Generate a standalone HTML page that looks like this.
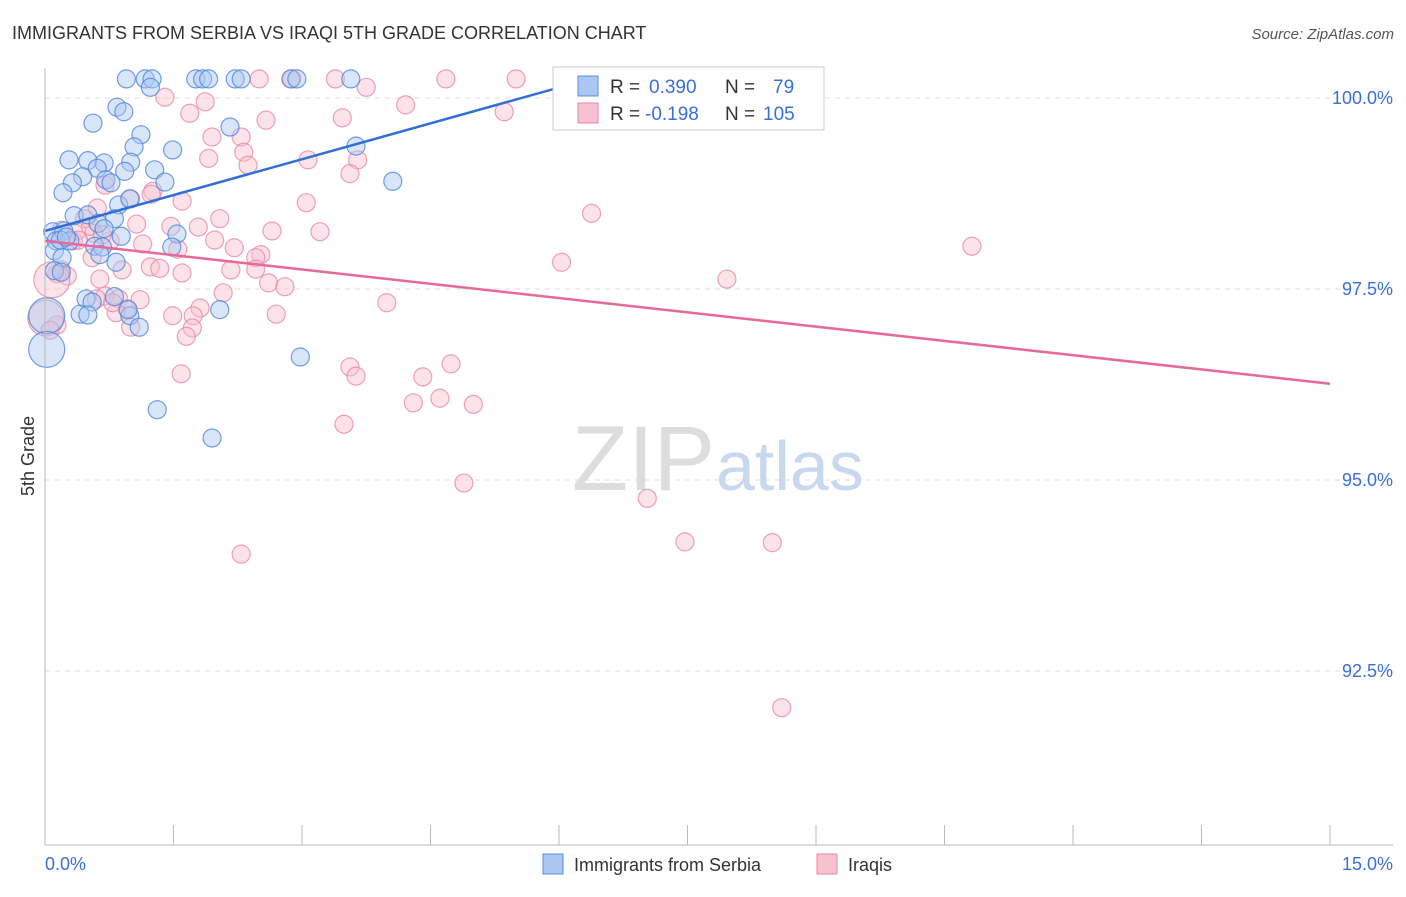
<!DOCTYPE html>
<html><head><meta charset="utf-8"><style>
body{margin:0;background:#fff;font-family:"Liberation Sans",sans-serif;}
svg text{font-family:"Liberation Sans",sans-serif;}
</style></head><body>
<svg id="chart" width="1406" height="892" xmlns="http://www.w3.org/2000/svg">
<text x="12" y="39" font-size="18" fill="#333">IMMIGRANTS FROM SERBIA VS IRAQI 5TH GRADE CORRELATION CHART</text>
<text x="1394" y="39" font-size="15" fill="#555" font-style="italic" text-anchor="end">Source: ZipAtlas.com</text>
<g id="grid"></g>
<text x="715" y="490" font-size="92" fill="#ddd" text-anchor="end" font-family="Liberation Serif">ZIP</text>
<text x="716" y="490" font-size="70" fill="#c8d8ee">atlas</text>
<g id="pts"></g>
<g id="axes"></g>
<text transform="translate(34,456) rotate(-90)" font-size="18" fill="#333" text-anchor="middle">5th Grade</text>
<text x="45" y="870" font-size="18" fill="#3a6fd8">0.0%</text>
<text x="1393" y="870" font-size="18" fill="#3a6fd8" text-anchor="end">15.0%</text>
<g>
<rect x="553" y="67" width="271" height="63" fill="#fff" stroke="#ccc"/>
<rect x="578" y="76" width="20" height="20" fill="#aac8f2" stroke="#5a8ee0"/>
<rect x="578" y="103" width="20" height="20" fill="#f8c0d0" stroke="#e888a8"/>
<text x="610" y="93" font-size="19" fill="#333">R = <tspan fill="#3a6fd8" x="649">0.390</tspan><tspan x="725">N = </tspan><tspan fill="#3a6fd8" x="773">79</tspan></text>
<text x="610" y="120" font-size="19" fill="#333">R = <tspan fill="#3a6fd8" x="645">-0.198</tspan><tspan x="725">N = </tspan><tspan fill="#3a6fd8" x="763">105</tspan></text>
</g>
<g>
<rect x="543" y="854" width="20" height="20" fill="#aac8f2" stroke="#5a8ee0"/>
<text x="574" y="871" font-size="18" fill="#333">Immigrants from Serbia</text>
<rect x="817" y="854" width="20" height="20" fill="#f8c0d0" stroke="#e888a8"/>
<text x="848" y="871" font-size="18" fill="#333">Iraqis</text>
</g>
</svg>
<script>
const yTicks=[100,97.5,95,92.5];
const yTickLabels=["100.0%","97.5%","95.0%","92.5%"];
const serbiaX=[0.95,1.17,1.25,1.76,1.84,1.91,2.22,2.29,2.87,2.94,3.57,6.82,8.43,1.23,0.84,0.92,0.56,1.12,2.16,1.49,1.04,0.28,0.50,0.69,1.00,3.63,0.61,0.93,1.28,0.44,0.71,0.77,0.32,1.40,4.06,0.21,0.86,0.99,0.34,0.50,0.81,0.62,0.09,0.22,0.69,0.89,1.54,0.13,0.29,0.58,0.67,1.48,0.11,0.20,0.83,0.11,0.19,0.48,0.81,0.55,0.41,0.50,0.99,1.10,2.04,0.02,0.02,2.98,1.31,1.95,0.18,0.25,0.64,0.97];
const serbiaY=[100.25,100.25,100.25,100.25,100.25,100.25,100.25,100.25,100.25,100.25,100.25,100.25,100.25,100.14,99.88,99.82,99.67,99.52,99.62,99.32,99.36,99.19,99.18,99.15,99.16,99.37,99.08,99.04,99.06,98.97,98.93,98.89,98.89,98.90,98.91,98.76,98.60,98.68,98.46,98.47,98.42,98.36,98.25,98.26,98.29,98.19,98.22,98.13,98.13,98.06,98.05,98.05,98.00,97.91,97.85,97.74,97.72,97.37,97.40,97.33,97.17,97.16,97.15,97.00,97.23,97.15,96.71,96.61,95.92,95.55,98.14,98.18,97.95,97.23];
const serbiaBig=[65,66];
const iraqX=[2.50,2.88,3.39,3.75,4.68,5.50,6.57,7.79,4.21,5.36,3.47,1.69,1.87,1.40,2.58,1.95,2.29,2.32,1.91,2.37,3.07,3.65,3.56,1.26,1.60,1.24,0.70,1.00,3.05,6.38,0.61,0.46,1.07,1.47,2.04,1.79,0.19,0.37,0.57,2.65,3.21,0.33,0.76,1.14,1.98,2.21,2.52,2.46,1.55,6.03,10.82,0.55,0.19,0.14,0.26,0.90,1.23,1.34,1.60,2.17,2.46,2.61,2.80,0.64,0.08,0.70,0.86,1.11,2.08,3.99,7.96,1.81,1.73,1.49,1.72,1.65,1.00,2.70,0.14,0.01,0.06,3.56,3.63,4.41,4.74,1.59,4.30,4.61,5.00,3.49,4.89,7.03,7.47,8.49,2.29,8.60,0.96,0.83,0.60,0.79,0.39,0.53,0.67];
const iraqY=[100.25,100.25,100.25,100.14,100.25,100.25,100.25,100.25,99.91,99.82,99.74,99.80,99.95,100.01,99.71,99.49,99.49,99.29,99.21,99.12,99.19,99.19,99.01,98.78,98.65,98.74,98.86,98.68,98.63,98.49,98.56,98.42,98.35,98.32,98.42,98.31,98.27,98.26,98.23,98.26,98.25,98.13,98.13,98.09,98.14,98.04,97.95,97.91,98.02,97.85,98.06,97.91,97.75,97.70,97.67,97.75,97.79,97.77,97.71,97.75,97.76,97.58,97.53,97.63,97.62,97.41,97.37,97.36,97.45,97.32,97.63,97.25,97.15,97.15,96.99,96.88,97.00,97.17,97.03,97.12,96.96,96.48,96.36,96.35,96.52,96.39,96.01,96.07,95.99,95.73,94.96,94.76,94.19,94.18,94.03,92.02,97.24,97.19,97.37,97.32,98.14,98.32,98.21];
const iraqBig=[79,64];
const serbiaTrend=[[0,98.26],[6.36,100.25]];
const iraqTrend=[[0,98.13],[15,96.26]];
const NS="http://www.w3.org/2000/svg";
function sx(v){return 45+v*(1285/15);}
function sy(v){return 98+(100-v)*76.4;}
const grid=document.getElementById('grid'),axes=document.getElementById('axes'),pts=document.getElementById('pts');
function mk(tag,attrs,parent){const e=document.createElementNS(NS,tag);for(const k in attrs)e.setAttribute(k,attrs[k]);parent.appendChild(e);return e;}
yTicks.forEach((t,i)=>{
 const l=mk('line',{x1:45,x2:1393,y1:sy(t),y2:sy(t),stroke:'#ddd','stroke-dasharray':'5,5'},grid);
 
 
 const tx=mk('text',{x:1393,y:sy(t)+6,'font-size':18,fill:'#3a6fd8','text-anchor':'end'},grid);
 tx.textContent=yTickLabels[i];
 
 
});
mk('line',{x1:45,x2:45,y1:68,y2:845,stroke:'#bbb'},axes);
mk('line',{x1:45,x2:1393,y1:845,y2:845,stroke:'#bbb'},axes);
for(let i=0;i<=10;i++){const t=mk('line',{x1:sx(i*1.5),x2:sx(i*1.5),y1:825,y2:845,stroke:'#bbb'},axes);
 
 }
function drawSeries(X,Y,big,fill,stroke,name){
 X.forEach((x,i)=>{const c=mk('circle',{cx:sx(x),cy:sy(Y[i]),r:big.includes(i)?18:9,fill:fill,'fill-opacity':0.45,stroke:stroke,'stroke-width':1.2,'stroke-opacity':0.8},pts);
 
 });
}
drawSeries(iraqX,iraqY,iraqBig,'#f8c0d0','#e888a8','iraqis-point');
drawSeries(serbiaX,serbiaY,serbiaBig,'#aac8f2','#4f86dc','serbia-point');
const t1=mk('line',{x1:sx(serbiaTrend[0][0]),y1:sy(serbiaTrend[0][1]),x2:sx(serbiaTrend[1][0]),y2:sy(serbiaTrend[1][1]),stroke:'#2f6fd6','stroke-width':2.5},pts);


const t2=mk('line',{x1:sx(iraqTrend[0][0]),y1:sy(iraqTrend[0][1]),x2:sx(iraqTrend[1][0]),y2:sy(iraqTrend[1][1]),stroke:'#e8689a','stroke-width':2.5},pts);


</script>
</body></html>
